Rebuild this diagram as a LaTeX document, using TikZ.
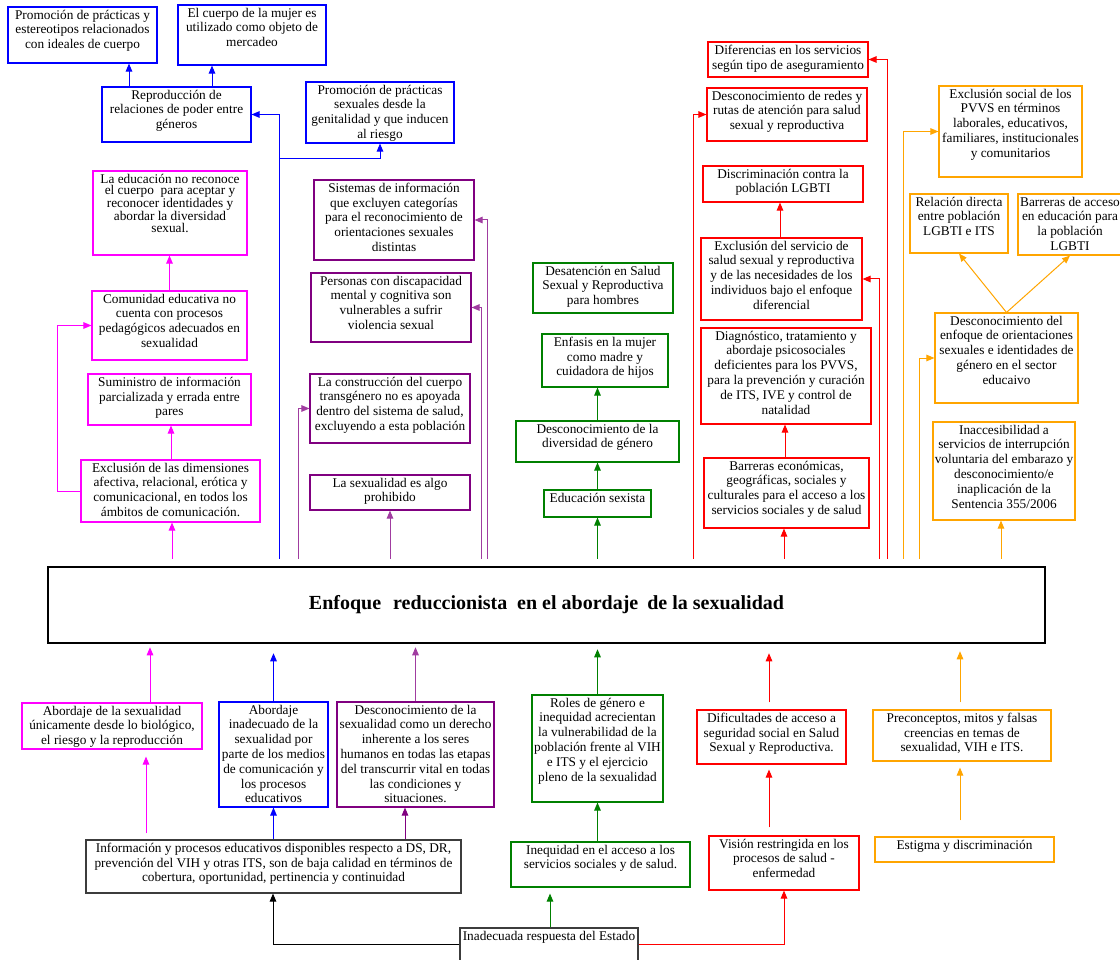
\documentclass[tikz,border=0pt]{standalone}
\usepackage{fontspec}
\setmainfont{Liberation Serif}
\usetikzlibrary{arrows.meta}
\definecolor{cblue}{RGB}{0,0,255}
\definecolor{cmag}{RGB}{255,0,255}
\definecolor{cpur}{RGB}{128,0,128}
\definecolor{cpl}{RGB}{160,60,160}
\definecolor{cgreen}{RGB}{0,128,0}
\definecolor{cred}{RGB}{255,0,0}
\definecolor{corange}{RGB}{255,165,0}
\definecolor{cgray}{RGB}{60,60,60}
\newcommand\myfs{\fontsize{13.3}{14.8}\selectfont}
\newcommand\bx[7]{\node[boxs,draw=#2,minimum width={#5-#3},minimum height={#6-#4},label={[lab]north:{#7}}] (#1) at ({(#3+#5)/2},{(#4+#6)/2}) {};}
\tikzset{
  boxs/.style={rectangle,inner sep=0pt,line width=1.1pt},
  lab/.style={anchor=north,align=center,inner xsep=1.5pt,inner ysep=3.2pt,font=\myfs,text=black},
  labtight/.style={lab,font=\fontsize{13.3}{11.6}\selectfont},
  ar/.style={-{Triangle[length=8pt,width=6.5pt]},line width=1pt},
}
\begin{document}
\begin{tikzpicture}[x=1pt,y=-1pt]
\fill[white] (0,0) rectangle (1120,960);
\useasboundingbox (0,0) rectangle (1120,960);

% ---- blue
\bx{B1}{cblue}{8}{7}{157}{63}{Promoción de prácticas y\\estereotipos relacionados\\con ideales de cuerpo}
\bx{B2}{cblue}{178}{5}{326}{65}{El cuerpo de la mujer es\\utilizado como objeto de\\mercadeo}
\bx{B3}{cblue}{102}{87}{251}{142}{Reproducción de\\relaciones de poder entre\\géneros}
\bx{B4}{cblue}{306}{82}{454}{143}{Promoción de prácticas\\sexuales desde la\\genitalidad y que inducen\\al riesgo}
% ---- magenta
\node[boxs,draw=cmag,minimum width=154,minimum height=84,label={[labtight]north:{La educación no reconoce\\el cuerpo\ \ para aceptar y\\reconocer identidades y\\abordar la diversidad\\sexual.}}] (M1) at (170,213) {};
\bx{M2}{cmag}{92}{291}{247}{360}{Comunidad educativa no\\cuenta con procesos\\pedagógicos adecuados en\\sexualidad}
\bx{M3}{cmag}{88}{374}{251}{425}{Suministro de información\\parcializada y errada entre\\pares}
\bx{M4}{cmag}{81}{460}{260}{522}{Exclusión de las dimensiones\\afectiva, relacional, erótica y\\comunicacional, en todos los\\ámbitos de comunicación.}
% ---- purple
\bx{P1}{cpur}{314}{180}{474}{260}{Sistemas de información\\que excluyen categorías\\para el reconocimiento de\\orientaciones sexuales\\distintas}
\bx{P2}{cpur}{311}{273}{471}{342}{Personas con discapacidad\\mental y cognitiva son\\vulnerables a sufrir\\violencia sexual}
\bx{P3}{cpur}{310}{374}{470}{443}{La construcción del cuerpo\\transgénero no es apoyada\\dentro del sistema de salud,\\excluyendo a esta población}
\bx{P4}{cpur}{310}{475}{470}{510}{La sexualidad es algo\\prohibido}
% ---- green
\bx{G1}{cgreen}{533}{263}{673}{313}{Desatención en Salud\\Sexual y Reproductiva\\para hombres}
\bx{G2}{cgreen}{542}{334}{668}{387}{Enfasis en la mujer\\como madre y\\cuidadora de hijos}
\bx{G3}{cgreen}{516}{421}{679}{462}{Desconocimiento de la\\diversidad de género}
\bx{G4}{cgreen}{544}{490}{651}{517}{Educación sexista}
% ---- red
\bx{R1}{cred}{708}{42}{868}{77}{Diferencias en los servicios\\según tipo de aseguramiento}
\bx{R2}{cred}{707}{88}{867}{141}{Desconocimiento de redes y\\rutas de atención para salud\\sexual y reproductiva}
\bx{R3}{cred}{703}{166}{863}{202}{Discriminación contra la\\población LGBTI}
\bx{R4}{cred}{701}{238}{862}{320}{Exclusión del servicio de\\salud sexual y reproductiva\\y de las necesidades de los\\individuos bajo el enfoque\\diferencial}
\bx{R5}{cred}{701}{328}{871}{424}{Diagnóstico, tratamiento y\\abordaje psicosociales\\deficientes para los PVVS,\\para la prevención y curación\\de ITS, IVE y control de\\natalidad}
\bx{R6}{cred}{704}{458}{869}{528}{Barreras económicas,\\geográficas, sociales y\\culturales para el acceso a los\\servicios sociales y de salud}
% ---- orange
\bx{O1}{corange}{939}{86}{1082}{177}{Exclusión social de los\\PVVS en términos\\laborales, educativos,\\familiares, institucionales\\y comunitarios}
\bx{O2}{corange}{910}{194}{1008}{253}{Relación directa\\entre población\\LGBTI e ITS}
\bx{O3}{corange}{1018}{194}{1122}{255}{Barreras de acceso\\en educación para\\la población\\LGBTI}
\bx{O4}{corange}{935}{313}{1078}{403}{Desconocimiento del\\enfoque de orientaciones\\sexuales e identidades de\\género en el sector\\educaivo}
\bx{O5}{corange}{933}{422}{1075}{520}{Inaccesibilidad a\\servicios de interrupción\\voluntaria del embarazo y\\desconocimiento/e\\inaplicación de la\\Sentencia 355/2006}

% ---- main
\node[draw=black,line width=2.5pt,minimum width=997,minimum height=76,inner sep=0pt,
  font=\fontsize{20}{24}\selectfont\bfseries] (main) at (546.5,605)
  {Enfoque\hspace{7pt} reduccionista\hspace{5pt} en el abordaje\hspace{4pt} de la sexualidad};

% ---- bottom
\bx{A1}{cmag}{22}{703}{202}{749}{Abordaje de la sexualidad\\únicamente desde lo biológico,\\el riesgo y la reproducción}
\bx{A2}{cblue}{219}{702}{328}{807}{Abordaje\\inadecuado de la\\sexualidad por\\parte de los medios\\de comunicación y\\los procesos\\educativos}
\bx{A3}{cpur}{337}{702}{494}{807}{Desconocimiento de la\\sexualidad como un derecho\\inherente a los seres\\humanos en todas las etapas\\del transcurrir vital en todas\\las condiciones y\\situaciones.}
\bx{Roles}{cgreen}{532}{695}{663}{802}{Roles de género e\\inequidad acrecientan\\la vulnerabilidad de la\\población frente al VIH\\e ITS y el ejercicio\\pleno de la sexualidad}
\bx{Dific}{cred}{697}{710}{846}{764}{Dificultades de acceso a\\seguridad social en Salud\\Sexual y Reproductiva.}
\bx{Precon}{corange}{873}{710}{1051}{761}{Preconceptos, mitos y falsas\\creencias en temas de\\sexualidad, VIH e ITS.}
\bx{Info}{cgray}{86}{840}{461}{893}{Información y procesos educativos disponibles respecto a DS, DR,\\prevención del VIH y otras ITS, son de baja calidad en términos de\\cobertura, oportunidad, pertinencia y continuidad}
\bx{Ineq}{cgreen}{511}{842}{690}{887}{Inequidad en el acceso a los\\servicios sociales y de salud.}
\bx{Vision}{cred}{709}{836}{859}{890}{Visión restringida en los\\procesos de salud -\\enfermedad}
\bx{Estigma}{corange}{875}{837}{1054}{862}{Estigma y discriminación}
\bx{Inad}{cgray}{460}{928}{638}{975}{Inadecuada respuesta del Estado}

% ---- connectors: blue
\draw[ar,cblue] (B3.north -| 129,0) -- (B1.south -| 129,0);
\draw[ar,cblue] (B3.north -| 212,0) -- (B2.south -| 212,0);
\draw[ar,cblue,shorten <=7pt] (main.north -| 279,0) |- (B3.east);
\coordinate (bj) at (279,159);
\draw[ar,cblue] (bj) -| (B4.south);
% magenta
\draw[ar,cmag,shorten <=7pt] (main.north -| 172,0) -- (M4.south -| 172,0);
\draw[ar,cmag] (M4.north -| 171,0) -- (M3.south -| 171,0);
\draw[ar,cmag] (M2.north) -- (M2.north |- M1.south);
\draw[ar,cmag] (M4.west) -- ++(-23,0) |- (M2.west);
% purple
\draw[ar,cpl,shorten <=7pt] (main.north -| P4.south) -- (P4.south);
\draw[ar,cpl,shorten <=7pt] (main.north -| 298,0) |- (P3.west);
\draw[ar,cpl,shorten <=7pt] (main.north -| 481,0) |- (P2.east);
\draw[ar,cpl,shorten <=7pt] (main.north -| 487,0) |- (P1.east);
% green
\draw[ar,cgreen,shorten <=7pt] (main.north -| G4.south) -- (G4.south);
\draw[ar,cgreen] (G4.north) -- (G3.south);
\draw[ar,cgreen] (G3.north) -- (G3.north |- G2.south);
% red
\draw[ar,cred,shorten <=7pt] (main.north -| 784,0) -- (R6.south -| 784,0);
\draw[ar,cred] (R6.north -| 785,0) -- (R5.south -| 785,0);
\draw[ar,cred] (R4.north -| 780,0) -- (R3.south -| 780,0);
\draw[ar,cred,shorten <=7pt] (main.north -| 693,0) |- (R2.west);
\draw[ar,cred,shorten <=7pt] (main.north -| 879,0) |- (R4.east);
\draw[ar,cred,shorten <=7pt] (main.north -| 887,0) |- (R1.east);
% orange
\draw[ar,corange,shorten <=7pt] (main.north -| 1001,0) -- (O5.south -| 1001,0);
\draw[ar,corange] (O4.north) -- (O2.south);
\draw[ar,corange] (O4.north) -- (O3.south);
\draw[ar,corange,shorten <=7pt] (main.north -| 903,0) |- (O1.west);
\draw[ar,corange,shorten <=7pt] (main.north -| 919,0) |- (O4.west);
% bottom
\draw[ar,cmag,shorten >=3pt] (A1.north -| 150,0) -- (main.south -| 150,0);
\draw[ar,cmag,shorten <=6pt,shorten >=7pt] (Info.north -| 146,0) -- (A1.south -| 146,0);
\draw[ar,cblue] (Info.north -| A2.south) -- (A2.south);
\draw[ar,cblue,shorten >=9pt] (A2.north) -- (main.south -| A2.north);
\draw[ar,cpur] (Info.north -| 405,0) -- (A3.south -| 405,0);
\draw[ar,cpl,shorten >=3pt] (A3.north) -- (main.south -| A3.north);
\draw[ar,black] (Inad.west |- 0,944) -| (Info.south -| 273,0);
\draw[ar,cgreen,shorten >=6pt] (Inad.north -| 550,0) -- (Ineq.south -| 550,0);
\draw[ar,cgreen] (Ineq.north -| Roles.south) -- (Roles.south);
\draw[ar,cgreen,shorten >=5pt] (Roles.north) -- (main.south -| Roles.north);
\draw[ar,cred] (Inad.east |- 0,944) -| (Vision.south);
\draw[ar,cred,shorten <=8pt,shorten >=5pt] (Vision.north -| 769,0) -- (Dific.south -| 769,0);
\draw[ar,cred,shorten <=7pt,shorten >=9pt] (Dific.north -| 769,0) -- (main.south -| 769,0);
\draw[ar,corange,shorten <=16pt,shorten >=6pt] (Estigma.north -| 960,0) -- (Precon.south -| 960,0);
\draw[ar,corange,shorten <=7pt,shorten >=7pt] (Precon.north -| 960,0) -- (main.south -| 960,0);
\end{tikzpicture}
\end{document}
